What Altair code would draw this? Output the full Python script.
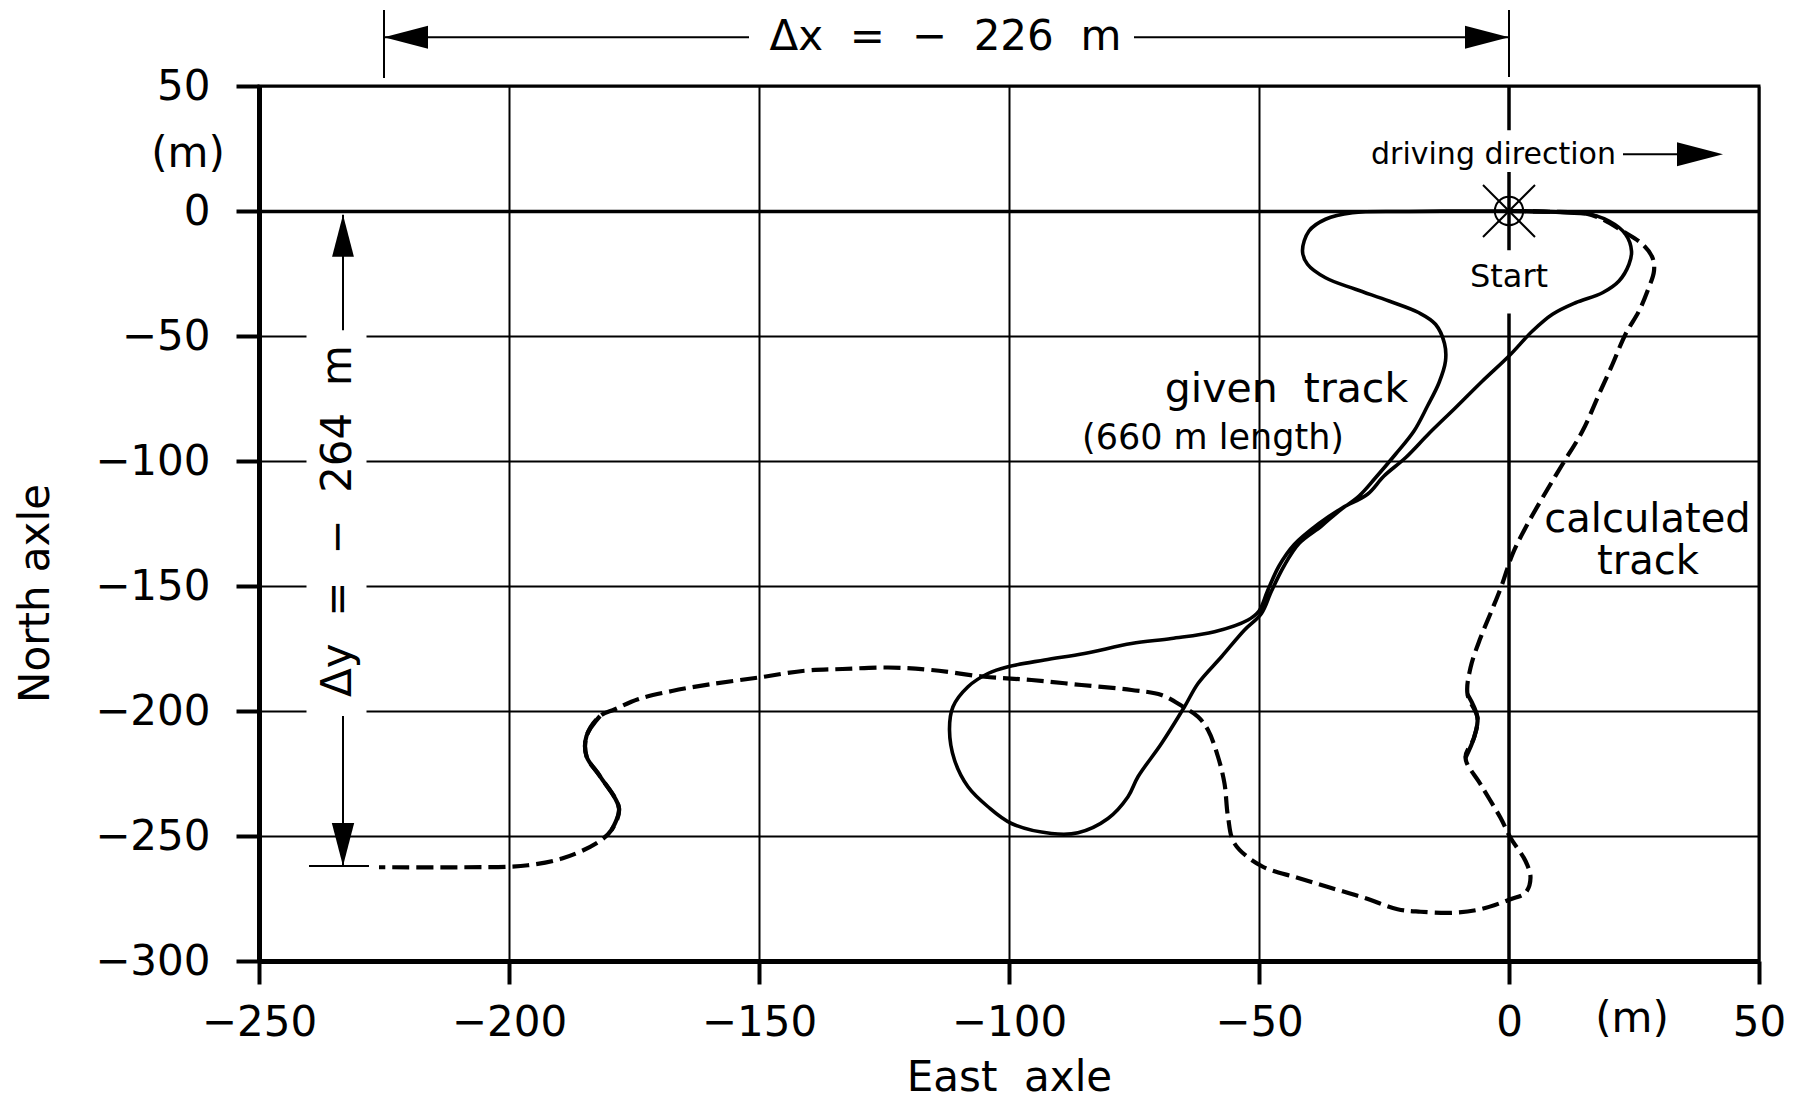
import altair as alt
import pandas as pd

FONT = "DejaVu Sans"
SP2 = "\u00a0 "  # double-width gap (SVG collapses plain repeated spaces)

# ---------------- data (metres east / north of the start point) ----------------
# given track: closed 660 m loop, starting at Start heading east
given_x = [0, 8, 14.7, 20, 23.3, 24.5, 24, 22, 18.7, 13.3, 8.7, 4.7, 0, -5.3, -10.7, -16,
           -20.7, -25, -28.3, -33.3, -38, -43, -46, -48.3, -50,
           -52.2, -58.9, -67.5, -75.5, -84.9, -92.9, -100.2, -104.2, -108.2, -111.2, -111.9,
           -110.9, -108.2, -104.2, -99.5, -91.5, -86.2, -80.2, -76.2, -74.2, -69.5, -64.9,
           -62.2, -57.5, -52.9, -49.5,
           -47.5, -45, -42, -37.5, -34, -30, -26.7, -22.7, -19, -16.3, -14, -12.7, -12.9,
           -14.7, -18, -24, -30.7, -36.7, -40.3, -41.3, -40, -36.7, -31.3, -20, -10, 0]
given_y = [0, -0.3, -0.7, -4, -9.3, -16, -21.3, -28, -32.7, -36.7, -41.3, -48, -58, -68, -78.7, -89,
           -98.7, -106, -113.3, -118.7, -125, -133.5, -142, -152, -160,
           -163.6, -168.3, -171, -173, -177, -179.6, -182.3, -185, -190.3, -198.3, -207.6,
           -219.6, -230.3, -238.3, -245, -249, -248.7, -243, -234.3, -226.3, -213, -198.3,
           -189, -178.3, -167.6, -161,
           -152, -142, -133, -126, -120, -114, -106.7, -97.3, -88, -78, -68.7, -60, -53,
           -45.3, -40.7, -36, -31.3, -26.7, -21.3, -16, -8, -3.3, -0.7, -0.2, 0, 0]

# calculated track (dead reckoning), from Start to end point
calc_x = [0, 8, 15.3, 18.7, 22.7, 26.7, 28.7, 29, 27.7, 26, 23.3, 20.7, 18, 14.7, 10.7, 6.7,
          3.3, 0.7, -1.5, -3.5, -5.7, -7.7, -8.3, -6.3, -7, -8.7, -5.7, -1.7, 0.3, 3.3, 4.3,
          3.3, 0.3, -5.7, -11, -17.7, -22.3, -29, -35.7, -42.3, -49.5, -54.9, -56.2, -56.9,
          -58.2, -60.2, -62.2, -65.2, -69.5, -75.5, -85.5, -95.5, -104.9, -115.5, -124.2,
          -133.3, -140.9, -150, -159.8, -167.4, -174.2, -178.8, -181.8, -184.5, -184.5,
          -181.8, -178, -179.5, -182.6, -189.4, -196.2, -200, -209, -226]
calc_y = [0, -0.3, -1, -3.3, -8, -13.3, -18.7, -24, -32, -40, -49.3, -61.3, -73.3, -88, -101.3,
          -114.7, -126.7, -137.3, -150, -160, -170.7, -182.7, -193.3, -202.7, -210.7, -218.7,
          -229.3, -242.7, -250.7, -260, -266.7, -272.7, -275.3, -279.3, -280.7, -280.3, -279.3,
          -274.7, -270.7, -266.7, -262, -253, -242.3, -229, -218.3, -207.6, -202.3, -198.3,
          -193.6, -191.6, -189.6, -187.6, -186.3, -183.6, -182.6, -183.2, -183.9, -186.6,
          -189.3, -192, -195.3, -199.3, -202, -210, -218.1, -226.1, -238.9, -247.6, -253,
          -259, -261.7, -262.3, -262.5, -262.5]
# index stretches of the calculated track that are drawn solid
calc_solid = [(0, 2), (22, 25), (62, 67)]

x_ticks = [-250, -200, -150, -100, -50, 0, 50]
y_ticks = [-300, -250, -200, -150, -100, -50, 0, 50]

delta_x = -226
delta_y = -264

# ---------------- tables ----------------
given_df = pd.DataFrame({"x": given_x, "y": given_y, "i": range(len(given_x))})
calc_df = pd.DataFrame({"x": calc_x, "y": calc_y, "i": range(len(calc_x))})
solid_rows = []
for k, (a, b) in enumerate(calc_solid):
    for j in range(a, b + 1):
        solid_rows.append({"x": calc_x[j], "y": calc_y[j], "i": j, "seg": k})
solid_df = pd.DataFrame(solid_rows)

xs = alt.Scale(domain=[-250, 50], nice=False, zero=False)
ys = alt.Scale(domain=[-300, 50], nice=False, zero=False)

x_axis = alt.Axis(
    values=x_ticks, title="East" + SP2 + "axle", grid=True, gridColor="black", gridWidth=2,
    gridOpacity={"condition": {"test": "datum.value === 0", "value": 0}, "value": 1},
    domainColor="black", domainWidth=5, tickColor="black", tickSize=23, tickWidth=4,
    labelFont=FONT, labelFontSize=42, labelColor="black", labelPadding=18,
    labelFlush=False, labelOverlap=False,
    titleFont=FONT, titleFontSize=42, titleFontWeight="normal", titleColor="black",
    titleBaseline="alphabetic", titleY=129,
)
y_axis = alt.Axis(
    values=y_ticks, title="North axle", grid=True, gridColor="black",
    gridWidth={"condition": {"test": "datum.value === 0", "value": 3.5}, "value": 2},
    gridOpacity=1,
    domainColor="black", domainWidth=5, tickColor="black", tickSize=23, tickWidth=4,
    labelFont=FONT, labelFontSize=42, labelColor="black", labelPadding=26,
    labelFlush=False, labelOverlap=False,
    titleFont=FONT, titleFontSize=42, titleFontWeight="normal", titleColor="black",
    titleAngle=270, titleAlign="center", titleBaseline="middle", titleX=-224, titleY=507,
)


def X(field="x"):
    return alt.X(f"{field}:Q", scale=xs, axis=x_axis)


def Y(field="y"):
    return alt.Y(f"{field}:Q", scale=ys, axis=y_axis)


layers = []

# white mask that breaks the grid lines behind the Δy text
mask_df = pd.DataFrame({"x": [-240.5], "x2": [-228.5], "y": [-47.5], "y2": [-201]})
layers.append(alt.Chart(mask_df).mark_rect(color="white").encode(
    x=X(), x2="x2", y=Y(), y2="y2"))

# heavy x = 0 line (broken for texts)
zero_df = pd.DataFrame({"x": [0, 0, 0], "y": [50, 15.6, -41], "y2": [32.3, -15.7, -300]})
layers.append(alt.Chart(zero_df).mark_rule(color="black", strokeWidth=3.5).encode(
    x=X(), y=Y(), y2="y2"))

# thin dimension lines
dimv_df = pd.DataFrame({"x": [0, delta_x + 1, -233.2, -233.2],
                        "y": [53.6, 53.2, -1.5, -202], "y2": [80.4, 80.4, -47.7, -262]})
layers.append(alt.Chart(dimv_df).mark_rule(color="black", strokeWidth=2).encode(
    x=X(), y=Y(), y2="y2"))
dimh_df = pd.DataFrame({"x": [delta_x + 1, -75, -240, 22.8],
                        "x2": [-152, 0, -228, 38], "y": [69.5, 69.5, -262, 22.7]})
layers.append(alt.Chart(dimh_df).mark_rule(color="black", strokeWidth=2).encode(
    x=X(), x2="x2", y=Y()))

# arrow heads
ARROWS = {
    "left": "M 0 0 L 2 -0.52 L 2 0.52 Z",
    "right": "M 0 0 L -2 -0.52 L -2 0.52 Z",
    "up": "M 0 0 L -0.52 2 L 0.52 2 Z",
    "down": "M 0 0 L -0.52 -2 L 0.52 -2 Z",
}
for name, ax_, ay_, sz in [("left", delta_x + 1, 69.5, 1936), ("right", 0, 69.5, 1936),
                           ("up", -233.2, -1.5, 1764), ("down", -233.2, -262, 1849),
                           ("right", 42.8, 22.7, 2116)]:
    layers.append(alt.Chart(pd.DataFrame({"x": [ax_], "y": [ay_]})).mark_point(
        shape=ARROWS[name], filled=True, color="black", opacity=1, size=sz, strokeWidth=0
    ).encode(x=X(), y=Y()))

# tracks
layers.append(alt.Chart(given_df).mark_line(
    color="black", strokeWidth=3.6, interpolate="catmull-rom").encode(
    x=X(), y=Y(), order="i:Q"))
layers.append(alt.Chart(calc_df).mark_line(
    color="black", strokeWidth=4.2, strokeDash=[17, 7], interpolate="catmull-rom").encode(
    x=X(), y=Y(), order="i:Q"))
layers.append(alt.Chart(solid_df).mark_line(
    color="black", strokeWidth=4.2, interpolate="catmull-rom").encode(
    x=X(), y=Y(), order="i:Q", detail="seg:N"))

# start symbol
layers.append(alt.Chart(pd.DataFrame({"x": [0], "y": [0]})).mark_point(
    shape="circle", filled=False, color="black", size=804, strokeWidth=2, opacity=1
).encode(x=X(), y=Y()))
cross_df = pd.DataFrame({"x": [-5.2, -5.2], "x2": [5.2, 5.2], "y": [10.4, -10.4], "y2": [-10.4, 10.4]})
layers.append(alt.Chart(cross_df).mark_rule(color="black", strokeWidth=2).encode(
    x=X(), x2="x2", y=Y(), y2="y2"))


def label(text, x, y, size, align="center", baseline="alphabetic", angle=0):
    df = pd.DataFrame({"x": [x], "y": [y], "t": [text]})
    return alt.Chart(df).mark_text(
        font=FONT, fontSize=size, align=align, baseline=baseline, angle=angle, color="black"
    ).encode(x=X(), y=Y(), text="t:N")


layers += [
    label(SP2.join(["Δx", "=", "−", "226", "m"]), -112.7, 69.5, 42, baseline="middle"),
    label(SP2.join(["Δy", "=", "−", "264", "m"]), -234.2, -124, 42, baseline="middle", angle=270),
    label("driving direction", -3.1, 18.7, 30),
    label("Start", 0, -30.4, 32),
    label("given" + SP2 + "track", -44.5, -76.4, 41),
    label("(660 m length)", -59.2, -95, 35),
    label("calculated", 27.7, -128.4, 40),
    label("track", 27.8, -145, 40),
    label("(m)", -264.2, 17.6, 42),
    label("(m)", 24.6, -328.4, 42),
]

chart = alt.layer(*layers).properties(
    width=1500, height=875,
    padding={"left": 251, "top": 78, "right": 29, "bottom": 141},
    autosize=alt.AutoSizeParams(type="none"),
    background="white",
).configure_view(stroke="black", strokeWidth=3)

chart.save("out.html", embed_options={"renderer": "svg", "actions": False})
